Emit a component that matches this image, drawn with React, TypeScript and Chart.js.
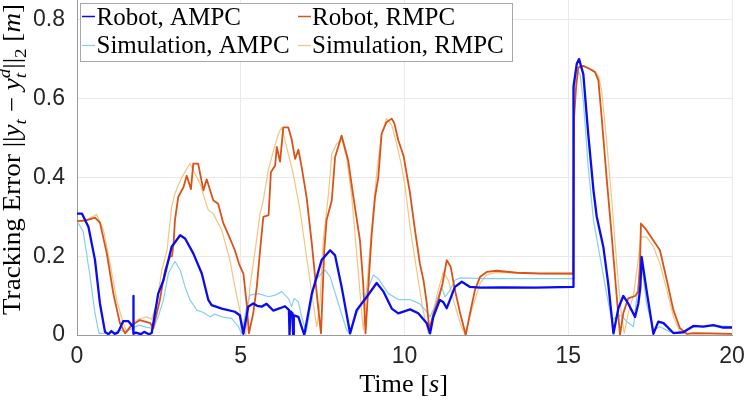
import React, { useEffect, useRef } from 'react';
import { Chart, registerables } from 'chart.js';

Chart.register(...registerables);

// [time (s), tracking error (m)]
const robotAmpc: [number, number][] = [
  [0, 0.308], [0.15, 0.308], [0.35, 0.274], [0.55, 0.19], [0.7, 0.08], [0.855, 0.008], [0.96, 0.002],
  [1.05, 0.01], [1.15, 0.003], [1.25, 0.006], [1.41, 0.035], [1.57, 0.035], [1.67, 0.025], [1.71, 0.02],
  [1.72, 0.099], [1.73, 0.003], [1.8, 0.006], [1.95, 0.002], [2.05, 0.008], [2.2, 0.002], [2.28, 0.005],
  [2.48, 0.105], [2.64, 0.139], [2.89, 0.224], [3.15, 0.253], [3.3, 0.245], [3.55, 0.207], [3.81, 0.156],
  [4.01, 0.089], [4.11, 0.076], [4.42, 0.067], [4.82, 0.059], [4.97, 0.05], [5.08, 0.003], [5.23, 0.072],
  [5.38, 0.08], [5.5, 0.074], [5.64, 0.072], [5.79, 0.079], [5.99, 0.062], [6.2, 0.068], [6.35, 0.073],
  [6.47, 0.064], [6.49, 0.0], [6.52, 0.06], [6.58, 0.055], [6.6, 0.0], [6.62, 0.05], [6.76, 0.046],
  [6.94, 0.0], [7.17, 0.105], [7.47, 0.19], [7.73, 0.215], [7.88, 0.202], [8.08, 0.122], [8.34, 0.004],
  [8.54, 0.063], [8.85, 0.097], [9.15, 0.132], [9.36, 0.11], [9.61, 0.067], [9.81, 0.055], [10.17, 0.065],
  [10.42, 0.055], [10.68, 0.03], [10.78, 0.004], [10.88, 0.046], [11.08, 0.089], [11.18, 0.084],
  [11.29, 0.068], [11.54, 0.122], [11.75, 0.135], [12.0, 0.122], [12.31, 0.12], [13.0, 0.121],
  [14.0, 0.12], [15.15, 0.122], [15.16, 0.63], [15.26, 0.688], [15.33, 0.7], [15.46, 0.662], [15.61, 0.51],
  [15.77, 0.367], [15.87, 0.3], [16.07, 0.224], [16.22, 0.131], [16.38, 0.004], [16.53, 0.068],
  [16.68, 0.099], [16.83, 0.08], [17.04, 0.046], [17.14, 0.08], [17.2, 0.12], [17.24, 0.198],
  [17.39, 0.114], [17.6, 0.003], [17.75, 0.034], [17.91, 0.03], [18.21, 0.005], [18.51, 0.007],
  [18.82, 0.023], [19.12, 0.021], [19.43, 0.025], [19.73, 0.019], [20, 0.019],
];

const robotRmpc: [number, number][] = [
  [0, 0.289], [0.25, 0.29], [0.55, 0.298], [0.7, 0.285], [0.91, 0.207], [1.11, 0.105], [1.31, 0.03],
  [1.47, 0.004], [1.67, 0.025], [1.92, 0.038], [2.24, 0.03], [2.33, 0.017], [2.53, 0.089], [2.69, 0.165],
  [2.84, 0.199], [2.9, 0.2], [2.95, 0.233], [2.99, 0.291], [3.09, 0.35], [3.25, 0.375], [3.35, 0.404],
  [3.48, 0.37], [3.55, 0.435], [3.7, 0.435], [3.86, 0.367], [3.96, 0.395], [4.16, 0.342], [4.31, 0.333],
  [4.47, 0.283], [4.67, 0.245], [4.82, 0.215], [4.95, 0.18], [5.08, 0.156], [5.18, 0.08], [5.25, 0.004],
  [5.38, 0.055], [5.49, 0.122], [5.59, 0.215], [5.69, 0.3], [5.85, 0.304], [5.92, 0.413], [6.05, 0.43],
  [6.1, 0.477], [6.2, 0.44], [6.3, 0.527], [6.45, 0.527], [6.55, 0.498], [6.66, 0.447], [6.76, 0.47],
  [6.86, 0.426], [7.01, 0.35], [7.17, 0.232], [7.32, 0.105], [7.45, 0.004], [7.55, 0.215], [7.62, 0.291],
  [7.78, 0.342], [7.88, 0.451], [8.08, 0.506], [8.28, 0.443], [8.44, 0.35], [8.64, 0.24], [8.74, 0.13],
  [8.81, 0.004], [8.92, 0.155], [9.0, 0.257], [9.1, 0.35], [9.2, 0.4], [9.3, 0.51], [9.45, 0.54],
  [9.61, 0.549], [9.69, 0.537], [9.81, 0.494], [9.97, 0.455], [10.17, 0.359], [10.32, 0.266],
  [10.47, 0.181], [10.58, 0.139], [10.68, 0.08], [10.76, 0.013], [10.89, 0.055], [11.03, 0.089],
  [11.16, 0.13], [11.29, 0.19], [11.41, 0.173], [11.54, 0.114], [11.7, 0.055], [11.87, 0.0],
  [12.0, 0.055], [12.15, 0.114], [12.31, 0.148], [12.51, 0.16], [12.82, 0.163], [13.43, 0.158],
  [14.14, 0.156], [15.15, 0.156], [15.18, 0.553], [15.24, 0.63], [15.31, 0.679], [15.46, 0.683],
  [15.66, 0.675], [15.82, 0.667], [15.92, 0.646], [16.02, 0.553], [16.17, 0.4], [16.33, 0.249],
  [16.48, 0.097], [16.58, 0.0], [16.68, 0.055], [16.83, 0.093], [17.04, 0.099], [17.14, 0.11],
  [17.19, 0.18], [17.22, 0.283], [17.39, 0.266], [17.6, 0.24], [17.8, 0.215], [18.01, 0.139],
  [18.21, 0.063], [18.41, 0.017], [18.62, 0.003], [18.82, 0.005], [19.33, 0.004], [20, 0.003],
];

const simAmpc: [number, number][] = [
  [0, 0.29], [0.19, 0.262], [0.4, 0.148], [0.55, 0.055], [0.67, 0.004], [0.96, 0.004], [1.17, 0.007],
  [1.31, 0.013], [1.47, 0.007], [1.7, 0.018], [1.9, 0.025], [2.1, 0.02], [2.33, 0.017], [2.48, 0.046],
  [2.64, 0.089], [2.79, 0.156], [2.99, 0.187], [3.15, 0.165], [3.3, 0.122], [3.45, 0.089], [3.66, 0.063],
  [3.86, 0.057], [4.06, 0.046], [4.21, 0.053], [4.42, 0.046], [4.72, 0.042], [4.93, 0.021], [5.03, 0.003],
  [5.18, 0.072], [5.28, 0.101], [5.54, 0.105], [5.85, 0.097], [6.05, 0.101], [6.25, 0.11], [6.45, 0.093],
  [6.55, 0.072], [6.63, 0.093], [6.76, 0.084], [6.86, 0.046], [7.0, 0.008], [7.27, 0.139], [7.57, 0.165],
  [7.73, 0.148], [7.98, 0.08], [8.23, 0.013], [8.32, 0.004], [8.54, 0.055], [8.79, 0.097], [9.05, 0.152],
  [9.2, 0.143], [9.51, 0.105], [9.81, 0.09], [10.17, 0.09], [10.47, 0.079], [10.68, 0.059], [10.78, 0.046],
  [10.94, 0.076], [11.13, 0.122], [11.24, 0.097], [11.39, 0.114], [11.54, 0.139], [11.7, 0.145],
  [12.41, 0.143], [15.15, 0.143], [15.17, 0.62], [15.26, 0.671], [15.36, 0.662], [15.46, 0.595],
  [15.61, 0.426], [15.77, 0.291], [15.97, 0.198], [16.17, 0.105], [16.33, 0.038], [16.48, 0.046],
  [16.63, 0.05], [16.78, 0.034], [16.99, 0.021], [17.14, 0.131], [17.22, 0.194], [17.39, 0.08],
  [17.6, 0.013], [17.8, 0.021], [18.11, 0.008], [18.41, 0.005], [18.82, 0.02], [19.43, 0.024], [20, 0.021],
];

const simRmpc: [number, number][] = [
  [0, 0.289], [0.35, 0.295], [0.6, 0.306], [0.81, 0.266], [1.01, 0.181], [1.21, 0.089], [1.41, 0.03],
  [1.52, 0.008], [1.67, 0.03], [1.87, 0.04], [2.12, 0.046], [2.28, 0.04], [2.43, 0.08], [2.59, 0.165],
  [2.75, 0.215], [2.89, 0.325], [2.99, 0.359], [3.2, 0.4], [3.45, 0.435], [3.6, 0.41], [3.76, 0.384],
  [3.91, 0.342], [4.01, 0.317], [4.16, 0.308], [4.42, 0.266], [4.67, 0.19], [4.82, 0.122], [4.97, 0.063],
  [5.08, 0.017], [5.15, 0.0], [5.28, 0.122], [5.44, 0.215], [5.59, 0.308], [5.69, 0.342], [5.84, 0.418],
  [6.0, 0.468], [6.15, 0.51], [6.25, 0.527], [6.35, 0.494], [6.45, 0.46], [6.6, 0.41], [6.81, 0.316],
  [7.01, 0.198], [7.17, 0.105], [7.32, 0.021], [7.42, 0.08], [7.52, 0.24], [7.68, 0.359], [7.78, 0.46],
  [7.93, 0.485], [8.08, 0.498], [8.23, 0.451], [8.39, 0.35], [8.54, 0.207], [8.67, 0.08], [8.74, 0.013],
  [8.85, 0.122], [9.0, 0.274], [9.15, 0.41], [9.3, 0.51], [9.45, 0.549], [9.61, 0.532], [9.76, 0.485],
  [9.91, 0.43], [10.02, 0.375], [10.17, 0.274], [10.37, 0.165], [10.53, 0.08], [10.63, 0.038],
  [10.73, 0.004], [10.89, 0.063], [11.03, 0.114], [11.19, 0.16], [11.34, 0.139], [11.49, 0.089],
  [11.7, 0.03], [11.85, 0.0], [12.05, 0.063], [12.31, 0.131], [12.51, 0.153], [12.82, 0.159],
  [13.94, 0.156], [15.15, 0.154], [15.17, 0.61], [15.26, 0.675], [15.36, 0.683], [15.56, 0.679],
  [15.77, 0.671], [15.92, 0.658], [16.02, 0.62], [16.17, 0.494], [16.33, 0.342], [16.48, 0.181],
  [16.63, 0.046], [16.71, 0.004], [16.83, 0.055], [16.99, 0.1], [17.12, 0.18], [17.22, 0.249],
  [17.39, 0.249], [17.6, 0.224], [17.8, 0.181], [18.01, 0.114], [18.21, 0.046], [18.41, 0.008],
  [18.62, 0.003], [20, 0.003],
];

const seriesLabels = ['Robot, AMPC', 'Robot, RMPC', 'Simulation, AMPC', 'Simulation, RMPC'];
const seriesColors = ['#0b0bf2', '#d95319', '#86cff0', '#f5c47f'];
const seriesWidths = [2.3, 1.8, 1.2, 1.2];
const xTicks = [0, 5, 10, 15, 20];
const yTicks = [0, 0.2, 0.4, 0.6, 0.8];

const SERIF = '"Liberation Serif", "Times New Roman", serif';
const SANS = '"Liberation Sans", Arial, sans-serif';

type Piece = { t: string; italic?: boolean; small?: boolean; sub?: boolean; sup?: string };

// draws (or just measures) a run of latex-ish text pieces along the x axis of ctx
const runPieces = (ctx: CanvasRenderingContext2D, pieces: Piece[], size: number, draw: boolean) => {
  let x = 0;
  for (const p of pieces) {
    const fs = p.small ? size * 0.7 : size;
    ctx.font = `${p.italic ? 'italic ' : ''}${fs}px ${SERIF}`;
    const w = ctx.measureText(p.t).width;
    let adv = w;
    if (draw) ctx.fillText(p.t, x, p.sub ? size * 0.22 : 0);
    if (p.sup) {
      const ws = ctx.measureText(p.sup).width;
      if (draw) ctx.fillText(p.sup, x, -size * 0.42);
      adv = Math.max(w, ws);
    }
    x += adv;
  }
  return x;
};

const yTitle: Piece[] = [
  { t: 'Tracking Error ' }, { t: '||' }, { t: 'y', italic: true }, { t: 't', italic: true, small: true, sub: true },
  { t: ' \u2212 ' }, { t: 'y', italic: true }, { t: 't', italic: true, small: true, sub: true, sup: 'd' },
  { t: '||' }, { t: '2', small: true, sub: true }, { t: ' [' }, { t: 'm', italic: true }, { t: ']' },
];
const xTitle: Piece[] = [{ t: 'Time [' }, { t: 's', italic: true }, { t: ']' }];

const annotations = {
  id: 'annotations',
  afterDraw(chart: Chart) {
    const ctx = chart.ctx;
    ctx.save();
    ctx.fillStyle = '#000';
    ctx.textBaseline = 'alphabetic';
    ctx.textAlign = 'left';

    // y title, rotated
    ctx.save();
    ctx.translate(20, 315);
    ctx.rotate(-Math.PI / 2);
    const wy = runPieces(ctx, yTitle, 25, false);
    ctx.scale(311 / wy, 1);
    runPieces(ctx, yTitle, 25, true);
    ctx.restore();

    // x title
    ctx.save();
    const wx = runPieces(ctx, xTitle, 25, false);
    ctx.translate(403.5 - (wx * 1.05) / 2, 392);
    ctx.scale(1.05, 1);
    runPieces(ctx, xTitle, 25, true);
    ctx.restore();

    // legend box
    ctx.fillStyle = '#fff';
    ctx.fillRect(80, 3, 432, 59);
    ctx.strokeStyle = '#a8a8a8';
    ctx.lineWidth = 1;
    ctx.strokeRect(80.5, 3.5, 432, 58);
    const colX = [82, 298];
    const textX = [96.5, 312];
    const rowBase = [25, 53];
    const rowLine = [16.5, 45.5];
    ctx.font = `25px ${SERIF}`;
    seriesLabels.forEach((label, i) => {
      const c = i % 2;
      const r = Math.floor(i / 2);
      ctx.strokeStyle = seriesColors[i];
      ctx.lineWidth = i < 2 ? 1.5 : 1.2;
      ctx.beginPath();
      ctx.moveTo(colX[c], rowLine[r]);
      ctx.lineTo(colX[c] + 13, rowLine[r]);
      ctx.stroke();
      ctx.fillStyle = '#000';
      ctx.fillText(label, textX[c], rowBase[r]);
    });
    ctx.restore();
  },
};

const TrackingErrorChart = () => {
  const canvasRef = useRef<HTMLCanvasElement>(null);
  const chartRef = useRef<Chart | null>(null);

  useEffect(() => {
    document.body.style.margin = '0';
    if (!canvasRef.current) return;
    const series = [robotAmpc, robotRmpc, simAmpc, simRmpc];
    chartRef.current = new Chart(canvasRef.current, {
      type: 'line',
      data: {
        datasets: series.map((s, i) => ({
          label: seriesLabels[i],
          data: s.map(([t, e]) => ({ x: t, y: e })),
          borderColor: seriesColors[i],
          backgroundColor: seriesColors[i],
          borderWidth: seriesWidths[i],
          borderJoinStyle: 'round' as const,
          pointRadius: 0,
          tension: 0,
          fill: false,
        })),
      },
      options: {
        animation: false,
        responsive: true,
        maintainAspectRatio: false,
        events: [],
        layout: { padding: { left: 0, right: 15, top: 0, bottom: 0 } },
        plugins: { legend: { display: false }, tooltip: { enabled: false } },
        scales: {
          x: {
            type: 'linear',
            min: 0,
            max: 20,
            afterBuildTicks: (s: any) => { s.ticks = xTicks.map((v) => ({ value: v })); },
            afterFit: (s: any) => { s.height = 66; s.paddingLeft = 0; s.paddingRight = 0; },
            ticks: {
              font: { family: SANS, size: 23 },
              color: '#262626',
              padding: 8,
              maxRotation: 0,
              autoSkip: false,
              callback: (v: any) => String(v),
            },
            grid: { color: '#e9e9e9', drawTicks: false, lineWidth: 1 },
            border: { color: '#9a9a9a', width: 1 },
          },
          y: {
            type: 'linear',
            min: 0,
            max: 0.85,
            afterBuildTicks: (s: any) => { s.ticks = yTicks.map((v) => ({ value: v })); },
            afterFit: (s: any) => { s.width = 77; s.paddingTop = 0; s.paddingBottom = 0; },
            ticks: {
              font: { family: SANS, size: 23 },
              color: '#262626',
              padding: 12,
              callback: (v: any) => String(v),
            },
            grid: { color: '#e9e9e9', drawTicks: false, lineWidth: 1 },
            border: { color: '#9a9a9a', width: 1 },
          },
        },
      },
      plugins: [annotations],
    });

    return () => {
      if (chartRef.current) {
        chartRef.current.destroy();
        chartRef.current = null;
      }
    };
  }, []);

  return (
    <div style={{ position: 'relative', width: 747, height: 401, background: '#fff' }}>
      <canvas ref={canvasRef} />
    </div>
  );
};

export default function App() {
  return <TrackingErrorChart />;
}
